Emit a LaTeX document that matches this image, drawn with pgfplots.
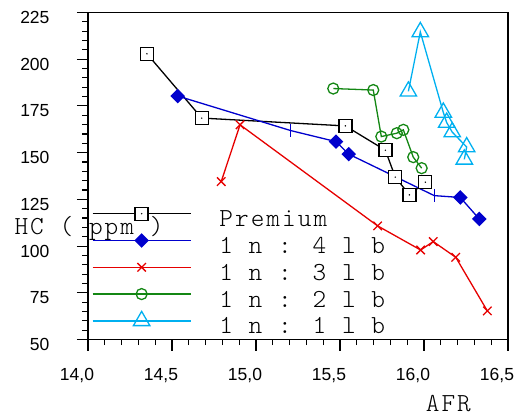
\documentclass[border=0pt]{standalone}
\usepackage{fontspec}
\usepackage{pgfplots}
\pgfplotsset{compat=1.18}
\newfontfamily\ticksf{Liberation Sans}
\newfontfamily\monof{lmmonolt10-regular.otf}[LetterSpace=8]
\definecolor{cblue}{RGB}{0,0,205}
\definecolor{cred}{RGB}{230,0,0}
\definecolor{cgreen}{RGB}{20,135,20}
\definecolor{ccyan}{RGB}{0,176,240}
\pgfdeclareplotmark{sqdot}{%
  \pgfpathrectangle{\pgfqpoint{-\pgfplotmarksize}{-\pgfplotmarksize}}{\pgfqpoint{2\pgfplotmarksize}{2\pgfplotmarksize}}%
  \pgfusepathqfillstroke
  \begin{pgfscope}%
  \pgfsetfillcolor{black}%
  \pgfpathcircle{\pgfpointorigin}{0.8pt}%
  \pgfusepathqfill
  \end{pgfscope}%
}
\begin{document}
\begin{tikzpicture}
\begin{axis}[
  at={(0,0)}, anchor=south west,
  scale only axis, width=420pt, height=327pt,
  xmin=14, xmax=16.5, ymin=50, ymax=225,
  xtick={14,14.5,15,15.5,16,16.5},
  ytick={50,75,100,125,150,175,200,225},
  minor x tick num=4, minor y tick num=4,
  tick pos=left, tick align=outside,
  major tick length=11pt, minor tick length=5.5pt,
  axis line style={line width=1.6pt},
  every tick/.style={black, line width=1.1pt},
  /pgf/number format/assume math mode=true,
  ticklabel style={font=\ticksf\fontsize{17.5}{20}\selectfont},
  xticklabel style={/pgf/number format/.cd, fixed, fixed zerofill, precision=1, use comma, /tikz/.cd, xshift=-11pt},
  yticklabel style={yshift=-5pt},
  xticklabel shift=14pt,
  yticklabel shift=24pt,
  xlabel={AFR}, ylabel={HC ( ppm )},
  every axis x label/.style={at={(axis description cs:0.858,-0.2208)}, anchor=base, font=\monof\fontsize{26}{26}\selectfont},
  every axis y label/.style={at={(axis description cs:-0.1833,0.3196)}, anchor=base west, font=\monof\fontsize{26}{26}\selectfont},
  legend cell align=left,
  legend image code/.code={%
    \path (0pt,0pt) (98pt,0pt);
    \begin{pgfinterruptboundingbox}
    \draw[mark repeat=2,mark phase=2,#1] plot coordinates {(0pt,13pt)(49pt,13pt)(98pt,13pt)};
    \end{pgfinterruptboundingbox}},
  legend style={draw=none, fill=none, inner sep=0pt, outer sep=0pt,
    at={(axis description cs:0.0095,0.347)}, anchor=north west,
    row sep=25.5pt, column sep=28pt,
    nodes={inner sep=0pt, text height=0pt, text depth=0pt, font=\monof\fontsize{26}{26}\selectfont}},
]
% Premium
\addplot[black, line width=1.3pt, mark=sqdot, mark size=6.5pt, mark options={fill=white, solid, line width=1.3pt}, forget plot] coordinates {
(14.351,202.9) (14.677,168.5) (15.532,164.3) (15.770,151.3) (15.829,136.9) (15.913,127.4) (16.008,134.2)};
% 1n:4lb
\addplot[cblue, line width=1.3pt, mark=square*, mark size=4.5pt, mark indices={1,3,4,6,7}, mark options={rotate=45, solid}, forget plot] coordinates {
(14.534,180.3) (15.207,161.8) (15.476,155.9) (15.552,149.2) (16.061,127.0) (16.216,126.0) (16.329,114.5)};
\addplot[cblue, only marks, mark=|, mark size=6.5pt, line width=1.3pt, forget plot] coordinates {
(15.207,161.8) (16.061,127.0)};
% 1n:3lb
\addplot[cred, line width=1.3pt, mark=x, mark size=6pt, mark options={solid, line width=1.3pt}, forget plot] coordinates {
(14.793,134.5) (14.905,164.9) (15.724,110.8) (15.980,97.9) (16.055,102.4) (16.189,94.0) (16.377,65.3)};
% 1n:2lb
\addplot[cgreen, line width=1.3pt, mark=o, mark size=5.5pt, mark options={solid, fill=white, line width=1.3pt}, forget plot] coordinates {
(15.460,184.3) (15.698,183.5) (15.746,158.6) (15.838,160.4) (15.877,162.2) (15.936,147.6) (15.986,141.7)};
% 1n:1lb
\addplot[ccyan, line width=1.3pt, mark=triangle, mark size=9.5pt, mark options={solid, fill=white, line width=1.3pt}, forget plot] coordinates {
(15.907,182.8) (15.978,214.6) (16.115,171.5) (16.135,166.1) (16.168,161.0) (16.254,153.0) (16.240,146.4)};
\addlegendimage{black, line width=1.3pt, mark=sqdot, mark size=6.5pt, mark options={fill=white, solid, line width=1.3pt}}
\addlegendentry{Premium}
\addlegendimage{cblue, line width=1.3pt, mark=square*, mark size=4.5pt, mark options={rotate=45, solid}}
\addlegendentry{1 n : 4 l b}
\addlegendimage{cred, line width=1.3pt, mark=x, mark size=6pt, mark options={solid, line width=1.3pt}}
\addlegendentry{1 n : 3 l b}
\addlegendimage{cgreen, line width=1.3pt, mark=o, mark size=5.5pt, mark options={solid, fill=white, line width=1.3pt}}
\addlegendentry{1 n : 2 l b}
\addlegendimage{ccyan, line width=1.3pt, mark=triangle, mark size=9.5pt, mark options={solid, fill=white, line width=1.3pt}}
\addlegendentry{1 n : 1 l b}
\end{axis}
\pgfresetboundingbox
\path[use as bounding box] (-88pt,-77.5pt) rectangle (428pt,339.5pt);
\end{tikzpicture}
\end{document}
